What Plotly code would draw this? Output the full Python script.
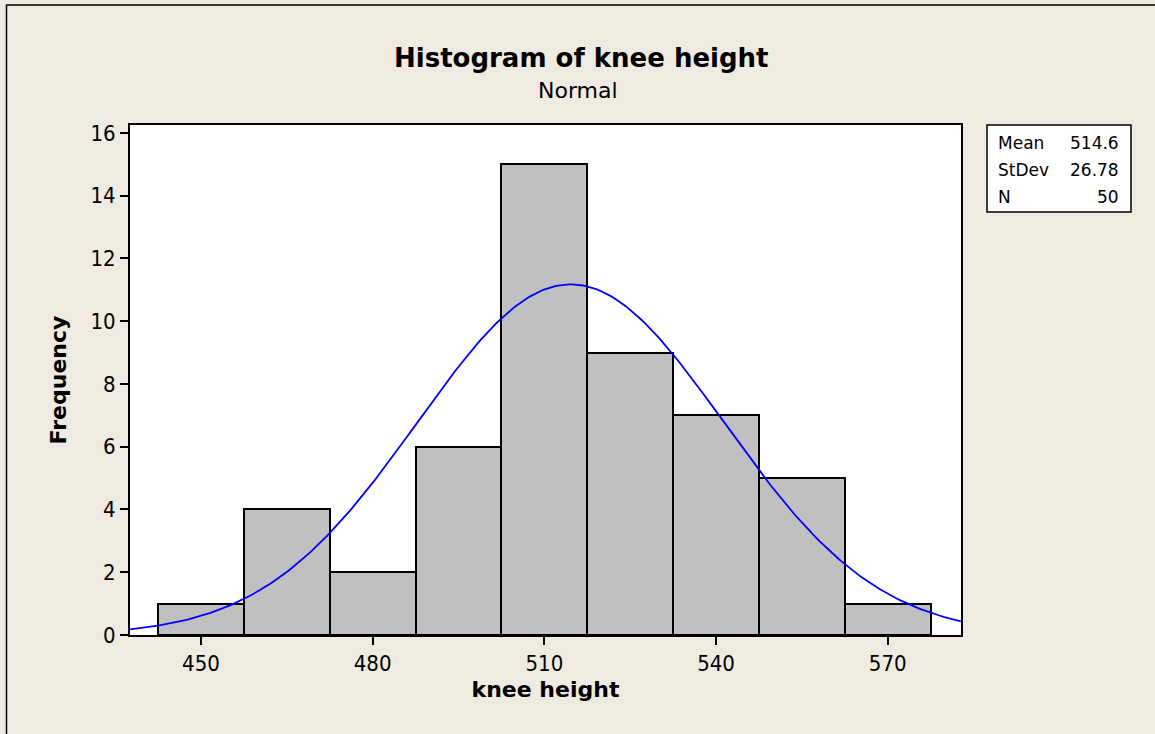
import numpy as np
import plotly.graph_objects as go

# histogram bins (centres) and frequencies
bin_centers = [450, 465, 480, 495, 510, 525, 540, 555, 570]
counts = [1, 4, 2, 6, 15, 9, 7, 5, 1]
bin_width = 15

# fitted normal parameters shown in the stats box
mean = 514.6
stdev = 26.78
n = 50

x_range = [437.6, 582.8]
y_range = [0, 16.25]
x_ticks = [450, 480, 510, 540, 570]
y_ticks = [0, 2, 4, 6, 8, 10, 12, 14, 16]

BG = "#EFEBE1"
TICKFONT = "DejaVu Sans Condensed, DejaVu Sans, sans-serif"
FONT = "DejaVu Sans, sans-serif"

# normal curve scaled to counts
xs = np.linspace(x_range[0], x_range[1], 300)
ys = n * bin_width * np.exp(-0.5 * ((xs - mean) / stdev) ** 2) / (stdev * np.sqrt(2 * np.pi))

fig = go.Figure()
fig.add_trace(go.Bar(
    x=bin_centers, y=counts, width=bin_width,
    marker=dict(color="#C0C0C0", line=dict(color="black", width=2)),
    hoverinfo="x+y"
))
fig.add_trace(go.Scatter(
    x=xs, y=ys, mode="lines", line=dict(color="#0000FF", width=1.8)
))

fig.update_layout(
    width=1155, height=734,
    paper_bgcolor=BG, plot_bgcolor="white",
    margin=dict(l=130, r=194, t=125, b=99),
    showlegend=False,
    bargap=0,
    font=dict(family=FONT, color="black", size=22),
    xaxis=dict(
        range=x_range, tickvals=x_ticks, ticks="outside", ticklen=8, tickwidth=2,
        tickcolor="black", showline=True, linecolor="black", linewidth=2, mirror=True,
        showgrid=False, zeroline=False, tickfont=dict(size=22, family=TICKFONT),
        title=dict(text="<b>knee height</b>", font=dict(size=22, family=FONT), standoff=6)
    ),
    yaxis=dict(
        range=y_range, tickvals=y_ticks, ticks="outside", ticklen=8, tickwidth=2,
        tickcolor="black", showline=True, linecolor="black", linewidth=2, mirror=True,
        showgrid=False, zeroline=False, tickfont=dict(size=22, family=TICKFONT),
        title=dict(text="<b>Frequency</b>", font=dict(size=22, family=FONT), standoff=18)
    ),
)

def px_x(px):
    return (px - 130) / 831

def px_y(py):
    return (635 - py) / 510

# titles
fig.add_annotation(text="<b>Histogram of knee height</b>", xref="paper", yref="paper",
                   x=px_x(581), y=px_y(58), xanchor="center", yanchor="middle",
                   showarrow=False, font=dict(size=26, family=FONT))
fig.add_annotation(text="Normal", xref="paper", yref="paper",
                   x=px_x(578), y=px_y(90), xanchor="center", yanchor="middle",
                   showarrow=False, font=dict(size=22, family=FONT))

# stats box
fig.add_shape(type="rect", xref="paper", yref="paper",
              x0=px_x(987), x1=px_x(1131), y0=px_y(212), y1=px_y(125),
              line=dict(color="black", width=1.5), fillcolor="white")
stats = [("Mean", f"{mean:.1f}"), ("StDev", f"{stdev:.2f}"), ("N", f"{n}")]
for i, (lab, val) in enumerate(stats):
    yy = px_y(143 + 27 * i)
    fig.add_annotation(text=lab, xref="paper", yref="paper", x=px_x(996), y=yy,
                       xanchor="left", yanchor="middle", showarrow=False,
                       font=dict(size=17, family=FONT))
    fig.add_annotation(text=val, xref="paper", yref="paper", x=px_x(1121), y=yy,
                       xanchor="right", yanchor="middle", showarrow=False,
                       font=dict(size=17, family=FONT))

# outer frame (only left and top edges fall inside the picture)
fig.add_shape(type="rect", xref="paper", yref="paper",
              x0=px_x(6.5), x1=px_x(1170), y0=px_y(750), y1=px_y(5),
              line=dict(color="black", width=1.5), layer="below")

fig.write_html("out.html", config={"displayModeBar": False},
               post_script="document.body.style.margin='0';")
